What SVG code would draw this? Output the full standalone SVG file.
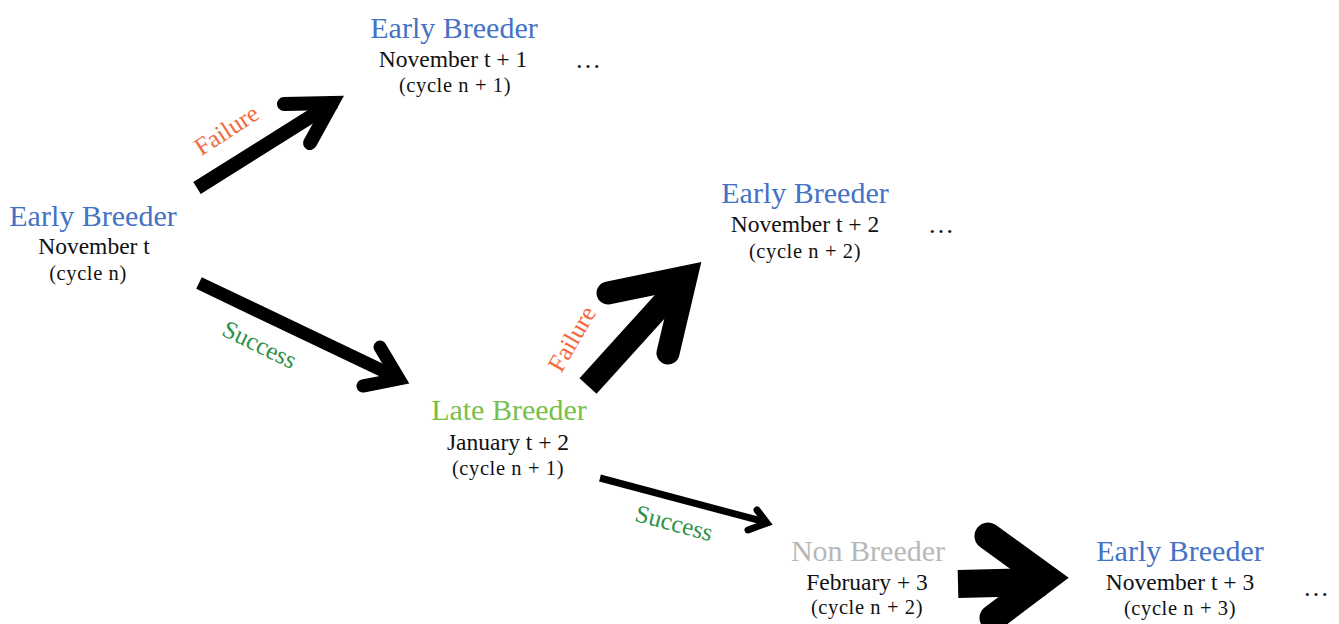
<svg xmlns="http://www.w3.org/2000/svg" width="1339" height="624" viewBox="0 0 1339 624">
<style>
text{font-family:"Liberation Serif","Times New Roman",serif;text-anchor:middle}
.t{font-size:30px;fill:#4472c4}
.late{fill:#78c04a}
.non{fill:#b8b8b8}
.d{font-size:23.5px;fill:#111}
.c{font-size:20.5px;fill:#111;letter-spacing:0.6px}
.dots{font-size:26px;fill:#111}
.fail{font-size:25px;fill:#f4683c}
.succ{font-size:25px;fill:#2e9149}
.shaft{fill:none;stroke:#000;stroke-linecap:butt}
.head{fill:none;stroke:#000;stroke-linecap:round;stroke-linejoin:miter;stroke-miterlimit:8}
</style>
<rect width="1339" height="624" fill="#fff"/>
<g id="connectors">
<g id="arrow1">
<line class="shaft" x1="197" y1="188" x2="334" y2="102" stroke-width="14"/>
<polyline class="head" points="284,104 332,103 310,143" stroke-width="14"/>
</g>
<g id="arrow2">
<line class="shaft" x1="199" y1="283" x2="398" y2="378" stroke-width="13"/>
<polyline class="head" points="380,347 399,379 363,386" stroke-width="13"/>
</g>
<g id="arrow3">
<line class="shaft" x1="588" y1="386" x2="684" y2="280" stroke-width="23"/>
<polyline class="head" points="608,293 686,277 668,353" stroke-width="23"/>
</g>
<g id="arrow4">
<line class="shaft" x1="600" y1="478" x2="765" y2="522" stroke-width="7"/>
<polyline class="head" points="757,510 767,523 748,530" stroke-width="7"/>
</g>
<g id="arrow5">
<line class="shaft" x1="958" y1="584" x2="1045" y2="582" stroke-width="28"/>
<polyline class="head" points="988,536 1046,578 993,618" stroke-width="27"/>
</g>
<text class="fail" transform="translate(231,137) rotate(-33)">Failure</text>
<text class="succ" transform="translate(256,352) rotate(26)">Success</text>
<text class="fail" transform="translate(579,343) rotate(-60)">Failure</text>
<text class="succ" transform="translate(672,531) rotate(15)">Success</text>
</g>
<g id="node-early-t">
<text class="t" x="93" y="226">Early Breeder</text>
<text class="d" x="94" y="254">November t</text>
<text class="c" x="88" y="280">(cycle n)</text>
</g>
<g id="node-early-t1">
<text class="t" x="454" y="38">Early Breeder</text>
<text class="d" x="453" y="67">November t + 1</text>
<text class="c" x="455" y="92">(cycle n + 1)</text>
<text class="dots" x="588" y="68">…</text>
</g>
<g id="node-early-t2">
<text class="t" x="805" y="203">Early Breeder</text>
<text class="d" x="805" y="232">November t + 2</text>
<text class="c" x="805" y="258">(cycle n + 2)</text>
<text class="dots" x="941" y="233">…</text>
</g>
<g id="node-late">
<text class="t late" x="509" y="420">Late Breeder</text>
<text class="d" x="508" y="450">January t + 2</text>
<text class="c" x="508" y="475">(cycle n + 1)</text>
</g>
<g id="node-non">
<text class="t non" x="868" y="561">Non Breeder</text>
<text class="d" x="867" y="590">February + 3</text>
<text class="c" x="867" y="614">(cycle n + 2)</text>
</g>
<g id="node-early-t3">
<text class="t" x="1180" y="561">Early Breeder</text>
<text class="d" x="1180" y="590">November t + 3</text>
<text class="c" x="1180" y="615">(cycle n + 3)</text>
<text class="dots" x="1316" y="596">…</text>
</g>
</svg>
